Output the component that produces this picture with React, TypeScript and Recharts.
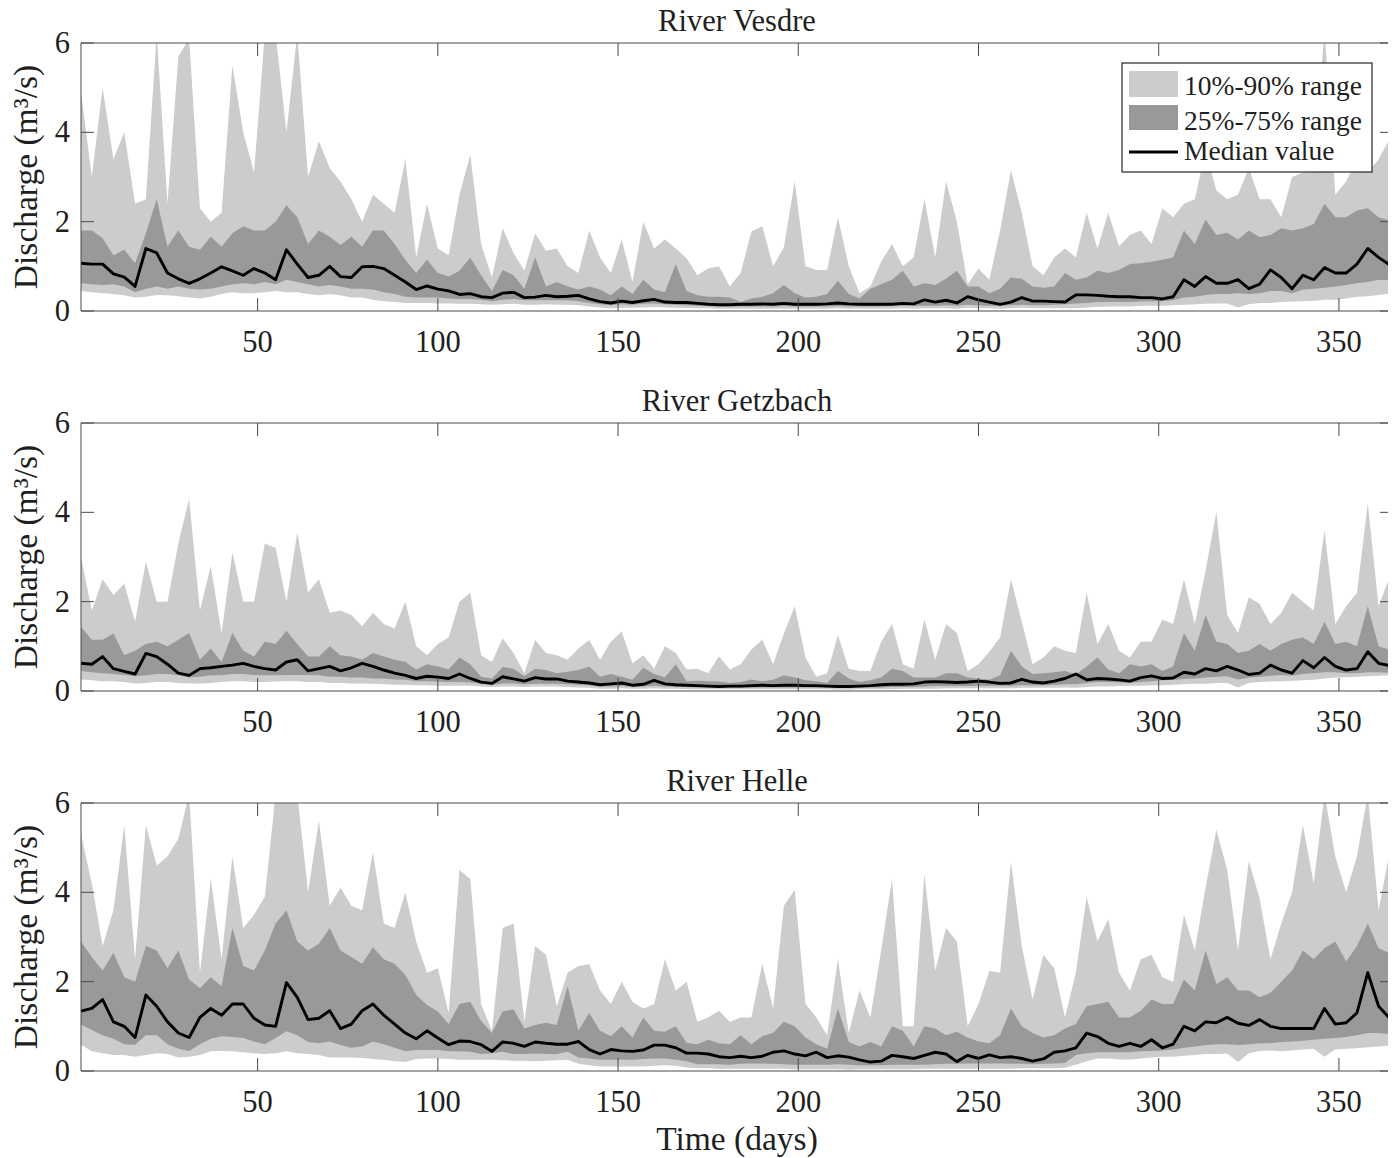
import React from 'react';
import { ComposedChart, Area, Line, XAxis, YAxis } from 'recharts';

// ---- categories / ticks ----
const DAYS: number[] = Array.from({ length: 122 }, (_, i) => (i === 121 ? 365 : 1 + 3 * i));
const X_TICKS = [50, 100, 150, 200, 250, 300, 350];
const Y_TICKS = [0, 2, 4, 6];

// ---- River Vesdre ----
const VESDRE_P90 = [
  4.9, 3.0, 5.0, 3.4, 4.0, 2.4, 2.5, 6.2, 2.4, 5.7, 6.1, 2.3, 2.0, 2.2, 5.5, 4.0, 3.1, 6.2, 6.2, 4.0, 6.2, 3.0, 3.8, 3.2, 2.9, 2.5, 2.0, 2.6, 2.4, 2.2, 3.4,
  1.2, 2.4, 1.4, 1.25, 2.6, 3.5, 1.5, 0.75, 1.85, 1.3, 0.9, 1.74, 1.35, 1.4, 1.0, 0.85, 1.8, 1.2, 0.85, 1.6, 0.65, 2.0, 1.4, 1.6, 1.4, 1.18, 0.8, 0.95, 1.0, 0.55,
  0.85, 1.78, 1.9, 1.0, 1.42, 2.9, 1.0, 0.92, 0.92, 2.1, 1.0, 0.4, 0.55, 1.1, 1.5, 1.0, 1.2, 2.5, 1.2, 2.9, 2.0, 0.6, 0.95, 0.7, 1.8, 3.15, 2.2, 1.0, 0.8, 1.2, 1.4,
  1.2, 2.2, 1.4, 2.2, 1.45, 1.7, 1.8, 1.5, 2.3, 2.1, 2.4, 2.5, 3.6, 2.7, 2.5, 2.6, 3.2, 2.5, 2.5, 2.1, 3.0, 3.1, 3.1, 6.3, 2.6, 2.9, 3.4, 3.1, 3.4, 4.0,
];
const VESDRE_P75 = [
  1.8, 1.8, 1.63, 1.25, 1.37, 1.07, 1.74, 2.5, 1.44, 1.8, 1.44, 1.37, 1.66, 1.44, 1.74, 1.9, 1.8, 1.8, 2.0, 2.37, 2.1, 1.5, 1.8, 1.66, 1.48, 1.66, 1.44, 1.8, 1.8, 1.5, 1.14,
  0.85, 1.15, 0.85, 0.77, 0.9, 1.2, 0.8, 0.45, 0.92, 0.8, 0.5, 1.2, 0.55, 0.65, 0.55, 0.48, 0.55, 0.48, 0.35, 0.55, 0.38, 0.7, 0.48, 0.42, 1.05, 0.45, 0.35, 0.32, 0.32, 0.3,
  0.2, 0.28, 0.32, 0.4, 0.58, 0.4, 0.3, 0.32, 0.38, 0.68, 0.38, 0.28, 0.5, 0.6, 0.7, 0.9, 0.55, 0.62, 0.58, 0.72, 0.9, 0.55, 0.55, 0.4, 0.5, 0.75, 0.72, 0.55, 0.52, 0.55, 0.85,
  0.7, 0.75, 0.9, 0.85, 0.92, 1.05, 1.07, 1.1, 1.15, 1.2, 1.8, 1.5, 2.05, 1.7, 1.75, 1.6, 1.8, 1.65, 1.7, 1.85, 1.8, 1.85, 1.95, 2.4, 2.1, 2.1, 2.25, 2.3, 2.1, 2.0,
];
const VESDRE_P50 = [
  1.07, 1.05, 1.05, 0.83, 0.76, 0.55, 1.4, 1.3, 0.85, 0.72, 0.62, 0.72, 0.85, 0.99, 0.9, 0.8, 0.95, 0.85, 0.7, 1.37, 1.05, 0.75, 0.8, 1.0, 0.77, 0.75, 0.99, 1.0, 0.95, 0.8, 0.65,
  0.48, 0.56, 0.49, 0.45, 0.37, 0.39, 0.32, 0.3, 0.4, 0.42, 0.3, 0.31, 0.35, 0.32, 0.33, 0.35, 0.27, 0.21, 0.18, 0.22, 0.19, 0.23, 0.26, 0.2, 0.19, 0.19, 0.17, 0.15, 0.14, 0.14,
  0.15, 0.15, 0.16, 0.15, 0.17, 0.15, 0.15, 0.15, 0.16, 0.18, 0.16, 0.15, 0.15, 0.15, 0.15, 0.17, 0.16, 0.25, 0.2, 0.24, 0.18, 0.32, 0.25, 0.2, 0.15, 0.2, 0.3, 0.22, 0.22, 0.21, 0.2,
  0.36, 0.36, 0.35, 0.33, 0.32, 0.32, 0.3, 0.3, 0.27, 0.32, 0.7, 0.55, 0.77, 0.62, 0.62, 0.7, 0.5, 0.6, 0.92, 0.75, 0.5, 0.8, 0.7, 0.97, 0.85, 0.85, 1.05, 1.4, 1.2, 0.98,
];
const VESDRE_P25 = [
  0.62, 0.6, 0.58, 0.6, 0.55, 0.42, 0.5, 0.55, 0.5, 0.55, 0.5, 0.48, 0.5, 0.55, 0.6, 0.62, 0.6, 0.65, 0.6, 0.7, 0.65, 0.6, 0.55, 0.58, 0.55, 0.5, 0.5, 0.48, 0.42, 0.38, 0.32,
  0.3, 0.3, 0.3, 0.28, 0.27, 0.27, 0.25, 0.22, 0.25, 0.27, 0.24, 0.24, 0.24, 0.24, 0.24, 0.22, 0.18, 0.15, 0.13, 0.15, 0.14, 0.16, 0.17, 0.15, 0.14, 0.13, 0.12, 0.11, 0.1, 0.1,
  0.1, 0.1, 0.1, 0.1, 0.11, 0.1, 0.1, 0.1, 0.1, 0.11, 0.1, 0.1, 0.1, 0.1, 0.11, 0.12, 0.11, 0.12, 0.12, 0.13, 0.12, 0.14, 0.13, 0.12, 0.12, 0.13, 0.14, 0.13, 0.13, 0.14, 0.15,
  0.17, 0.18, 0.2, 0.2, 0.2, 0.2, 0.21, 0.22, 0.22, 0.24, 0.3, 0.32, 0.36, 0.38, 0.38, 0.4, 0.38, 0.4, 0.45, 0.45, 0.4, 0.48, 0.5, 0.52, 0.55, 0.58, 0.62, 0.65, 0.7, 0.68,
];
const VESDRE_P10 = [
  0.45, 0.42, 0.4, 0.38, 0.35, 0.3, 0.32, 0.36, 0.35, 0.33, 0.3, 0.28, 0.32, 0.38, 0.42, 0.4, 0.4, 0.42, 0.45, 0.42, 0.42, 0.38, 0.35, 0.38, 0.35, 0.3, 0.3, 0.25, 0.22, 0.2, 0.18,
  0.18, 0.18, 0.17, 0.17, 0.16, 0.16, 0.15, 0.14, 0.15, 0.16, 0.14, 0.14, 0.15, 0.14, 0.14, 0.13, 0.1, 0.08, 0.06, 0.07, 0.07, 0.08, 0.09, 0.08, 0.07, 0.07, 0.06, 0.06, 0.05, 0.05,
  0.05, 0.05, 0.05, 0.05, 0.05, 0.05, 0.05, 0.05, 0.05, 0.06, 0.05, 0.05, 0.05, 0.05, 0.05, 0.06, 0.05, 0.06, 0.06, 0.06, 0.05, 0.07, 0.06, 0.06, 0.05, 0.06, 0.07, 0.06, 0.06, 0.06, 0.06,
  0.06, 0.08, 0.09, 0.1, 0.1, 0.1, 0.12, 0.12, 0.12, 0.13, 0.14, 0.15, 0.16, 0.17, 0.17, 0.08, 0.15, 0.18, 0.18, 0.2, 0.21, 0.22, 0.23, 0.25, 0.25, 0.28, 0.32, 0.33, 0.36, 0.4,
];

// ---- River Getzbach ----
const GETZBACH_P90 = [
  3.0, 1.8, 2.5, 2.15, 2.4, 1.55, 2.9, 2.0, 2.0, 3.3, 4.3, 1.8, 2.8, 1.3, 3.1, 2.0, 2.0, 3.3, 3.2, 2.0, 3.55, 2.2, 2.5, 1.75, 1.8, 1.7, 1.45, 1.75, 1.5, 1.4, 2.0,
  1.0, 0.8, 1.05, 1.2, 2.0, 2.2, 0.8, 0.65, 1.18, 0.85, 0.4, 1.14, 0.85, 0.8, 0.7, 0.95, 1.14, 0.7, 1.1, 1.33, 0.62, 0.8, 0.5, 1.0, 0.85, 0.48, 0.5, 0.4, 0.78, 0.48,
  0.6, 0.93, 1.15, 0.6, 1.28, 1.9, 0.75, 0.32, 0.4, 1.25, 0.5, 0.45, 0.45, 1.1, 1.5, 0.6, 0.5, 1.6, 0.7, 1.5, 1.3, 0.45, 0.6, 0.88, 1.2, 2.5, 1.55, 0.6, 0.75, 1.0, 0.9,
  0.85, 2.2, 1.05, 1.5, 0.9, 0.75, 1.1, 1.1, 1.6, 1.5, 2.5, 1.5, 2.7, 4.0, 1.7, 1.3, 2.1, 1.95, 1.5, 1.75, 2.2, 2.0, 1.8, 3.6, 1.5, 1.9, 2.2, 4.2, 1.9, 2.75,
];
const GETZBACH_P75 = [
  1.44, 1.15, 1.15, 1.29, 0.8, 0.9, 1.05, 1.1, 1.0, 1.15, 1.3, 0.7, 0.95, 0.65, 1.3, 0.9, 0.77, 1.1, 1.05, 1.35, 1.05, 0.77, 0.77, 1.0, 0.8, 0.77, 0.7, 0.85, 0.77, 0.7, 0.65,
  0.48, 0.6, 0.55, 0.48, 0.75, 0.6, 0.32, 0.28, 0.54, 0.5, 0.33, 0.5, 0.47, 0.4, 0.43, 0.47, 0.55, 0.32, 0.38, 0.32, 0.25, 0.52, 0.38, 0.3, 0.6, 0.22, 0.23, 0.22, 0.21, 0.18,
  0.2, 0.26, 0.22, 0.25, 0.35, 0.3, 0.24, 0.22, 0.18, 0.45, 0.28, 0.2, 0.24, 0.3, 0.5, 0.45, 0.3, 0.3, 0.3, 0.4, 0.4, 0.3, 0.28, 0.25, 0.35, 0.9, 0.55, 0.38, 0.4, 0.42, 0.45,
  0.37, 0.55, 0.75, 0.48, 0.4, 0.6, 0.55, 0.6, 0.45, 0.55, 1.3, 0.9, 1.7, 1.1, 1.05, 0.85, 0.9, 1.05, 0.9, 1.05, 1.15, 1.2, 1.05, 1.55, 1.05, 1.1, 1.0, 1.9, 1.0, 0.9,
];
const GETZBACH_P50 = [
  0.62, 0.6, 0.77, 0.5, 0.44, 0.38, 0.84, 0.77, 0.6, 0.4, 0.35, 0.5, 0.52, 0.55, 0.58, 0.62, 0.55, 0.5, 0.47, 0.65, 0.7, 0.45, 0.5, 0.55, 0.45, 0.52, 0.62, 0.55, 0.47, 0.4, 0.35,
  0.28, 0.33, 0.31, 0.28, 0.38, 0.28, 0.2, 0.17, 0.32, 0.27, 0.22, 0.3, 0.27, 0.27, 0.22, 0.2, 0.18, 0.14, 0.16, 0.18, 0.13, 0.15, 0.24, 0.16, 0.14, 0.13, 0.12, 0.11, 0.1, 0.11,
  0.11, 0.12, 0.13, 0.12, 0.13, 0.13, 0.12, 0.12, 0.11, 0.1, 0.1, 0.11, 0.12, 0.14, 0.15, 0.15, 0.16, 0.2, 0.21, 0.2, 0.19, 0.2, 0.22, 0.2, 0.17, 0.18, 0.26, 0.2, 0.18, 0.22, 0.28,
  0.38, 0.25, 0.28, 0.27, 0.25, 0.22, 0.3, 0.34, 0.28, 0.29, 0.42, 0.38, 0.5, 0.45, 0.55, 0.47, 0.37, 0.4, 0.58, 0.47, 0.4, 0.68, 0.52, 0.75, 0.55, 0.47, 0.5, 0.88, 0.62, 0.55,
];
const GETZBACH_P25 = [
  0.45, 0.42, 0.4, 0.38, 0.36, 0.33, 0.35, 0.38, 0.38, 0.35, 0.3, 0.32, 0.35, 0.35, 0.38, 0.38, 0.36, 0.35, 0.35, 0.36, 0.36, 0.36, 0.35, 0.32, 0.32, 0.3, 0.3, 0.28, 0.28, 0.26, 0.25,
  0.22, 0.22, 0.21, 0.2, 0.2, 0.19, 0.16, 0.14, 0.17, 0.17, 0.15, 0.16, 0.16, 0.16, 0.15, 0.14, 0.13, 0.1, 0.1, 0.11, 0.09, 0.1, 0.12, 0.1, 0.09, 0.09, 0.08, 0.08, 0.07, 0.07,
  0.07, 0.07, 0.08, 0.08, 0.08, 0.08, 0.08, 0.07, 0.07, 0.07, 0.07, 0.07, 0.08, 0.08, 0.09, 0.09, 0.09, 0.1, 0.11, 0.11, 0.11, 0.11, 0.12, 0.12, 0.12, 0.12, 0.13, 0.13, 0.13, 0.14, 0.15,
  0.15, 0.18, 0.2, 0.2, 0.19, 0.18, 0.2, 0.22, 0.24, 0.25, 0.27, 0.28, 0.3, 0.32, 0.33, 0.26, 0.3, 0.32, 0.34, 0.36, 0.34, 0.38, 0.4, 0.42, 0.42, 0.4, 0.4, 0.42, 0.42, 0.4,
];
const GETZBACH_P10 = [
  0.26, 0.24, 0.22, 0.22, 0.2, 0.17, 0.18, 0.2, 0.2, 0.18, 0.17, 0.17, 0.18, 0.2, 0.22, 0.22, 0.2, 0.2, 0.21, 0.22, 0.22, 0.2, 0.2, 0.18, 0.18, 0.17, 0.17, 0.16, 0.15, 0.14, 0.14,
  0.13, 0.13, 0.12, 0.12, 0.12, 0.12, 0.1, 0.09, 0.1, 0.1, 0.09, 0.1, 0.1, 0.1, 0.09, 0.08, 0.07, 0.05, 0.05, 0.06, 0.05, 0.05, 0.06, 0.05, 0.05, 0.04, 0.04, 0.04, 0.04, 0.04,
  0.04, 0.04, 0.04, 0.04, 0.04, 0.04, 0.04, 0.04, 0.04, 0.03, 0.03, 0.04, 0.04, 0.04, 0.04, 0.05, 0.05, 0.05, 0.05, 0.06, 0.06, 0.06, 0.06, 0.06, 0.06, 0.06, 0.07, 0.07, 0.07, 0.07, 0.08,
  0.07, 0.09, 0.1, 0.1, 0.11, 0.12, 0.12, 0.13, 0.13, 0.14, 0.15, 0.16, 0.16, 0.18, 0.18, 0.08, 0.18, 0.2, 0.21, 0.22, 0.23, 0.24, 0.25, 0.28, 0.3, 0.31, 0.32, 0.33, 0.34, 0.35,
];

// ---- River Helle ----
const HELLE_P90 = [
  5.3, 4.2, 2.8, 3.6, 5.5, 2.5, 5.5, 4.6, 4.8, 5.2, 6.2, 2.2, 4.3, 2.5, 4.8, 3.2, 3.5, 3.9, 6.2, 6.2, 6.2, 4.0, 5.6, 3.7, 4.1, 3.7, 3.6, 4.9, 3.3, 3.2, 4.0,
  2.9, 2.2, 2.3, 1.3, 4.5, 4.3, 1.5, 0.9, 3.2, 3.3, 1.1, 2.8, 2.6, 1.45, 2.2, 2.35, 2.39, 1.8, 1.5, 2.0, 1.55, 1.4, 1.5, 2.5, 1.8, 2.0, 1.1, 1.2, 1.35, 1.1,
  1.2, 1.2, 2.4, 1.4, 3.7, 4.05, 1.5, 1.2, 0.8, 2.5, 0.85, 1.8, 1.2, 2.7, 4.3, 1.0, 1.0, 4.4, 2.25, 3.2, 2.9, 1.0, 1.5, 2.24, 2.2, 4.68, 2.8, 1.6, 2.6, 2.3, 1.2,
  2.2, 3.9, 2.9, 3.4, 2.2, 1.8, 2.5, 2.6, 2.1, 2.0, 3.5, 2.7, 4.1, 5.4, 4.5, 2.7, 4.7, 3.86, 2.5, 3.3, 4.0, 5.5, 4.2, 6.2, 4.8, 4.0, 4.8, 6.2, 3.6, 5.3,
];
const HELLE_P75 = [
  2.9, 2.55, 2.25, 2.65, 2.1, 2.0, 2.8, 2.7, 2.3, 2.7, 2.05, 1.85, 2.1, 1.9, 3.2, 2.35, 2.25, 2.7, 3.3, 3.6, 2.9, 2.7, 2.85, 3.2, 2.7, 2.55, 2.4, 2.77, 2.5, 2.4, 2.15,
  1.7, 1.48, 1.33, 1.05, 1.5, 1.55, 1.12, 0.85, 1.34, 1.38, 0.95, 1.03, 1.08, 1.03, 1.9, 0.9, 1.3, 0.9, 0.78, 1.0, 0.75, 1.2, 0.9, 0.88, 1.0, 0.63, 0.6, 0.7, 0.62, 0.6,
  0.8, 0.6, 0.78, 0.85, 1.1, 1.0, 0.75, 0.6, 0.5, 1.4, 0.65, 0.55, 0.65, 0.55, 1.0, 0.9, 0.55, 1.0, 0.95, 0.8, 0.88, 0.75, 0.66, 0.62, 0.8, 1.4, 1.0, 0.85, 0.75, 0.8, 0.95,
  1.05, 1.45, 1.5, 1.55, 1.2, 1.2, 1.35, 1.6, 1.5, 1.5, 2.05, 1.8, 2.7, 1.95, 2.1, 1.8, 1.8, 1.65, 1.75, 2.0, 2.25, 2.7, 2.5, 2.75, 2.9, 2.45, 2.8, 3.3, 2.75, 2.6,
];
const HELLE_P50 = [
  1.34, 1.4, 1.6, 1.1, 1.0, 0.75, 1.7, 1.45, 1.1, 0.85, 0.75, 1.2, 1.4, 1.25, 1.5, 1.5, 1.18, 1.03, 1.0, 1.98, 1.65, 1.15, 1.18, 1.35, 0.95, 1.05, 1.35, 1.5, 1.25, 1.05, 0.85,
  0.72, 0.9, 0.74, 0.59, 0.67, 0.66, 0.59, 0.44, 0.65, 0.62, 0.55, 0.65, 0.62, 0.6, 0.6, 0.66, 0.48, 0.38, 0.48, 0.45, 0.44, 0.47, 0.58, 0.58, 0.52, 0.4, 0.4, 0.38, 0.32, 0.3,
  0.33, 0.3, 0.33, 0.42, 0.45, 0.38, 0.34, 0.42, 0.3, 0.34, 0.31, 0.25, 0.2, 0.22, 0.35, 0.32, 0.28, 0.35, 0.42, 0.38, 0.21, 0.35, 0.28, 0.36, 0.3, 0.32, 0.28, 0.22, 0.27, 0.42, 0.45,
  0.52, 0.85, 0.77, 0.62, 0.55, 0.62, 0.55, 0.7, 0.52, 0.6, 1.0, 0.9, 1.1, 1.08, 1.2, 1.07, 1.02, 1.15, 1.0, 0.95, 0.95, 0.95, 0.95, 1.4, 1.05, 1.08, 1.3, 2.2, 1.45, 1.1,
];
const HELLE_P25 = [
  1.04, 0.92, 0.8, 0.72, 0.6, 0.59, 0.8, 0.8, 0.6, 0.5, 0.45, 0.6, 0.72, 0.78, 0.76, 0.74, 0.66, 0.6, 0.74, 0.89, 0.8, 0.65, 0.62, 0.66, 0.58, 0.52, 0.55, 0.66, 0.6, 0.52, 0.44,
  0.47, 0.47, 0.47, 0.44, 0.44, 0.43, 0.38, 0.4, 0.43, 0.38, 0.38, 0.39, 0.38, 0.38, 0.43, 0.3, 0.28, 0.25, 0.25, 0.25, 0.25, 0.27, 0.28, 0.28, 0.25, 0.22, 0.15, 0.15, 0.15, 0.14,
  0.16, 0.17, 0.17, 0.16, 0.15, 0.14, 0.14, 0.14, 0.14, 0.15, 0.14, 0.13, 0.13, 0.13, 0.14, 0.14, 0.14, 0.14, 0.15, 0.16, 0.16, 0.17, 0.17, 0.17, 0.17, 0.16, 0.16, 0.15, 0.16, 0.17, 0.18,
  0.36, 0.4, 0.42, 0.42, 0.42, 0.42, 0.44, 0.45, 0.46, 0.48, 0.52, 0.55, 0.58, 0.6, 0.6, 0.58, 0.6, 0.62, 0.62, 0.65, 0.66, 0.68, 0.7, 0.72, 0.74, 0.76, 0.8, 0.85, 0.85, 0.82,
];
const HELLE_P10 = [
  0.59, 0.44, 0.4, 0.36, 0.36, 0.32, 0.36, 0.4, 0.38, 0.3, 0.32, 0.36, 0.44, 0.45, 0.44, 0.42, 0.4, 0.38, 0.4, 0.44, 0.4, 0.38, 0.36, 0.3, 0.3, 0.3, 0.29, 0.27, 0.25, 0.22, 0.2,
  0.27, 0.28, 0.28, 0.27, 0.25, 0.25, 0.25, 0.25, 0.24, 0.23, 0.23, 0.22, 0.23, 0.24, 0.25, 0.16, 0.13, 0.1, 0.1, 0.1, 0.1, 0.1, 0.12, 0.13, 0.12, 0.08, 0.06, 0.06, 0.05, 0.05,
  0.05, 0.05, 0.05, 0.05, 0.05, 0.04, 0.04, 0.04, 0.04, 0.04, 0.03, 0.04, 0.04, 0.04, 0.04, 0.04, 0.04, 0.05, 0.05, 0.05, 0.05, 0.05, 0.05, 0.05, 0.05, 0.05, 0.06, 0.06, 0.06, 0.06, 0.07,
  0.14, 0.22, 0.28, 0.28, 0.26, 0.26, 0.28, 0.3, 0.32, 0.32, 0.34, 0.36, 0.38, 0.38, 0.39, 0.2, 0.4, 0.45, 0.46, 0.44, 0.46, 0.48, 0.5, 0.32, 0.48, 0.5, 0.51, 0.53, 0.55, 0.58,
];

// ---- styling ----
const FONT = '"Liberation Serif", "Times New Roman", serif';
const LIGHT = '#cccccc';
const DARK = '#999999';
const INK = '#1f1f1f';
const BORDER = '#4a4a4a';
const TICK_LEN = 13;

type Row = { day: number; p50: number; outer: [number, number]; inner: [number, number] };

function buildRows(p10: number[], p25: number[], p50: number[], p75: number[], p90: number[]): Row[] {
  return DAYS.map((day, i) => ({
    day,
    p50: p50[i],
    outer: [p10[i], p90[i]],
    inner: [p25[i], p75[i]],
  }));
}

const PANELS = [
  { title: 'River Vesdre', rows: buildRows(VESDRE_P10, VESDRE_P25, VESDRE_P50, VESDRE_P75, VESDRE_P90) },
  { title: 'River Getzbach', rows: buildRows(GETZBACH_P10, GETZBACH_P25, GETZBACH_P50, GETZBACH_P75, GETZBACH_P90) },
  { title: 'River Helle', rows: buildRows(HELLE_P10, HELLE_P25, HELLE_P50, HELLE_P75, HELLE_P90) },
];

const BottomTick = (props: any) => {
  const { x, y, payload } = props;
  return (
    <g>
      <line x1={x} x2={x} y1={y} y2={y - TICK_LEN} stroke={BORDER} strokeWidth={1} />
      <text x={x} y={y + 41} textAnchor="middle" fontFamily={FONT} fontSize={30.5} fill={INK}>
        {payload.value}
      </text>
    </g>
  );
};
const TopTick = (props: any) => {
  const { x, y } = props;
  return <line x1={x} x2={x} y1={y} y2={y + TICK_LEN} stroke={BORDER} strokeWidth={1} />;
};
const LeftTick = (props: any) => {
  const { x, y, payload } = props;
  return (
    <g>
      <line x1={x} x2={x + TICK_LEN} y1={y} y2={y} stroke={BORDER} strokeWidth={1} />
      <text x={x - 11} y={y + 10} textAnchor="end" fontFamily={FONT} fontSize={30.5} fill={INK}>
        {payload.value}
      </text>
    </g>
  );
};
const RightTick = (props: any) => {
  const { x, y } = props;
  return <line x1={x} x2={x - TICK_LEN} y1={y} y2={y} stroke={BORDER} strokeWidth={1} />;
};

const CHART_W = 1388;
const CHART_H = 380;
const PLOT_H = 268;
const PAGE_OFF = 8; // body margin

function Panel({ rows }: { rows: Row[] }) {
  return (
    <ComposedChart
      width={CHART_W}
      height={CHART_H}
      data={rows}
      margin={{ top: 34, right: 2, bottom: 37, left: 13 }}
    >
      <XAxis
        dataKey="day"
        type="number"
        domain={[1, 365]}
        ticks={X_TICKS}
        interval={0}
        height={40}
        tickSize={0}
        tickMargin={0}
        tickLine={false}
        axisLine={{ stroke: BORDER, strokeWidth: 1 }}
        tick={<BottomTick />}
      />
      <XAxis
        xAxisId="top"
        orientation="top"
        dataKey="day"
        type="number"
        domain={[1, 365]}
        ticks={X_TICKS}
        interval={0}
        height={1}
        tickSize={0}
        tickMargin={0}
        tickLine={false}
        axisLine={{ stroke: BORDER, strokeWidth: 1 }}
        tick={<TopTick />}
      />
      <YAxis
        type="number"
        domain={[0, 6]}
        ticks={Y_TICKS}
        interval={0}
        allowDataOverflow
        width={60}
        tickSize={0}
        tickMargin={0}
        tickLine={false}
        axisLine={{ stroke: BORDER, strokeWidth: 1 }}
        tick={<LeftTick />}
      />
      <YAxis
        yAxisId="right"
        orientation="right"
        type="number"
        domain={[0, 6]}
        ticks={Y_TICKS}
        interval={0}
        allowDataOverflow
        width={1}
        tickSize={0}
        tickMargin={0}
        tickLine={false}
        axisLine={{ stroke: BORDER, strokeWidth: 1 }}
        tick={<RightTick />}
      />
      <Area
        type="linear"
        dataKey="outer"
        stroke="none"
        fill={LIGHT}
        fillOpacity={1}
        dot={false}
        activeDot={false}
        isAnimationActive={false}
      />
      <Area
        type="linear"
        dataKey="inner"
        stroke="none"
        fill={DARK}
        fillOpacity={1}
        dot={false}
        activeDot={false}
        isAnimationActive={false}
      />
      <Line
        type="linear"
        dataKey="p50"
        stroke="#000000"
        strokeWidth={2.9}
        strokeLinejoin="round"
        dot={false}
        activeDot={false}
        isAnimationActive={false}
      />
    </ComposedChart>
  );
}

export default function App() {
  const plotCenterX = 73 + 1312 / 2;
  return (
    <div style={{ position: 'relative', width: CHART_W, height: 1150 }}>
      {PANELS.map((p, k) => (
        <div key={p.title} style={{ position: 'absolute', left: 0, top: k * 380, width: CHART_W, height: CHART_H }}>
          <Panel rows={p.rows} />
        </div>
      ))}
      <svg
        width={1396}
        height={1158}
        style={{ position: 'absolute', left: -PAGE_OFF, top: -PAGE_OFF, pointerEvents: 'none', overflow: 'visible' }}
      >
        <g transform={`translate(${PAGE_OFF},${PAGE_OFF})`}>
          {PANELS.map((p, k) => {
            const top = 35 + k * 380;
            return (
              <g key={p.title}>
                <text x={plotCenterX} y={top - 12} textAnchor="middle" fontFamily={FONT} fontSize={30.5} fill={INK}>
                  {p.title}
                </text>
                <text
                  transform={`translate(29,${top + PLOT_H / 2}) rotate(-90)`}
                  textAnchor="middle"
                  fontFamily={FONT}
                  fontSize={33.5}
                  fill={INK}
                >
                  Discharge (m³/s)
                </text>
              </g>
            );
          })}
          <text x={plotCenterX} y={1142} textAnchor="middle" fontFamily={FONT} fontSize={33.5} fill={INK}>
            Time (days)
          </text>
          {/* legend */}
          <g>
            <rect x={1114} y={55} width={250} height={109} fill="#ffffff" stroke="#262626" strokeWidth={1.2} />
            <rect x={1121} y={63} width={49} height={26} fill={LIGHT} />
            <rect x={1121} y={97} width={49} height={25} fill={DARK} />
            <line x1={1121} x2={1170} y1={144} y2={144} stroke="#000000" strokeWidth={3} />
            <text x={1176} y={87} fontFamily={FONT} fontSize={27.5} fill={INK}>10%-90% range</text>
            <text x={1176} y={122} fontFamily={FONT} fontSize={27.5} fill={INK}>25%-75% range</text>
            <text x={1176} y={152} fontFamily={FONT} fontSize={27.5} fill={INK}>Median value</text>
          </g>
        </g>
      </svg>
    </div>
  );
}
